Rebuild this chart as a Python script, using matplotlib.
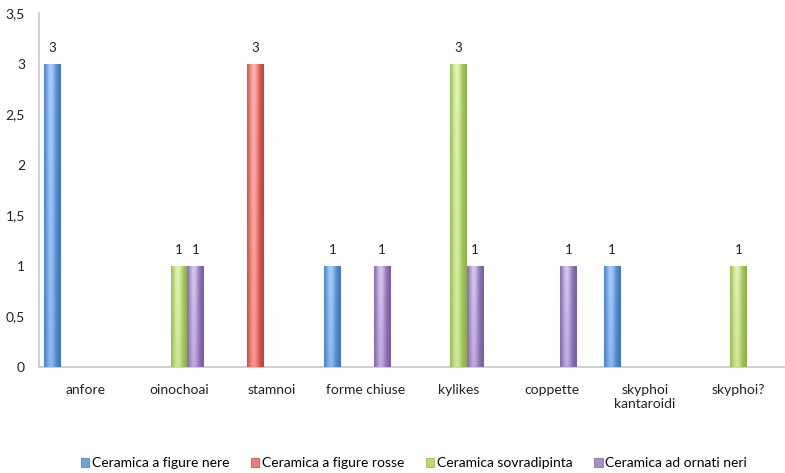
import matplotlib
matplotlib.use("Agg")
import matplotlib.pyplot as plt
import numpy as np
from matplotlib.colors import LinearSegmentedColormap
from matplotlib.patches import Patch
from matplotlib.ticker import FuncFormatter

categories = ["anfore", "oinochoai", "stamnoi", "forme chiuse", "kylikes",
              "coppette", "skyphoi\nkantaroidi", "skyphoi?"]
series = ["Ceramica a figure nere", "Ceramica a figure rosse",
          "Ceramica sovradipinta", "Ceramica ad ornati neri"]
figure_nere = [3, 0, 0, 1, 0, 0, 1, 0]
figure_rosse = [0, 0, 3, 0, 0, 0, 0, 0]
sovradipinta = [0, 1, 0, 0, 3, 0, 0, 1]
ornati_neri = [0, 1, 0, 1, 1, 1, 0, 0]
values = [figure_nere, figure_rosse, sovradipinta, ornati_neri]

# (edge, mid, highlight) per series
shades = [("#3f78c0", "#6fa3e0", "#a9cdf5"),
          ("#c7403c", "#ec7a76", "#f7b3b0"),
          ("#8fb24a", "#b9d97a", "#e2f3b8"),
          ("#7a5ea6", "#a88fcc", "#d6c8ea")]

plt.rcParams['font.family'] = ['Lato', 'DejaVu Sans']

fig = plt.figure(figsize=(7.85, 4.73), dpi=100)
ax = fig.add_axes([39 / 785, 106 / 473, 746 / 785, 354 / 473])

x = np.arange(len(categories))
w = 0.177
offsets = [-2, -1, 0, 1]

# horizontal "cylinder" shading
grad = np.linspace(0, 1, 64)
prof = np.exp(-((grad - 0.4) / 0.3) ** 2)
vert = np.linspace(0.75, 1.0, 32)[:, None]
shade_img = np.clip(prof[None, :] * vert, 0, 1)

for vals, off, name, (c0, c1, c2) in zip(values, offsets, series, shades):
    vals = np.array(vals, dtype=float)
    mask = vals > 0
    bars = ax.bar(x[mask] + off * w, vals[mask], width=w, color=c1,
                  edgecolor="none", label=name, zorder=2)
    cmap = LinearSegmentedColormap.from_list(name, [c0, c1, c2])
    for b in bars:
        x0, y0 = b.get_x(), b.get_y()
        im = ax.imshow(shade_img, cmap=cmap, vmin=0, vmax=1, aspect="auto",
                       extent=[x0, x0 + b.get_width(), y0, y0 + b.get_height()],
                       origin="lower", zorder=3, interpolation="bilinear")
        im.set_clip_path(b)
    ax.bar_label(bars, labels=[f"{v:g}" for v in vals[mask]], padding=7,
                 fontsize=9.5, color="#222222")

ax.set_xlim(-0.5, len(categories) - 0.5)
ax.set_ylim(0, 3.5)
ax.set_yticks(np.arange(0, 3.51, 0.5))
ax.yaxis.set_major_formatter(FuncFormatter(lambda v, p: f"{v:g}".replace(".", ",")))
ax.set_xticks(x)
ax.set_xticklabels(categories)
ax.tick_params(axis="both", length=0, labelsize=10, colors="#222222")
ax.tick_params(axis="x", pad=12)
ax.tick_params(axis="y", pad=10)
for s in ["top", "right"]:
    ax.spines[s].set_visible(False)
for s in ["left", "bottom"]:
    ax.spines[s].set_color("#c8c8c8")
    ax.spines[s].set_linewidth(1.2)

handles = [Patch(facecolor=sh[1], edgecolor=sh[0], linewidth=0.5) for sh in shades]
fig.legend(handles, series, loc="center", bbox_to_anchor=(414 / 785, 10 / 473),
           ncol=4, frameon=False, fontsize=10, handlelength=0.6, handleheight=0.6,
           handletextpad=0.2, columnspacing=1.55)

fig.savefig("out.png", dpi=100)
